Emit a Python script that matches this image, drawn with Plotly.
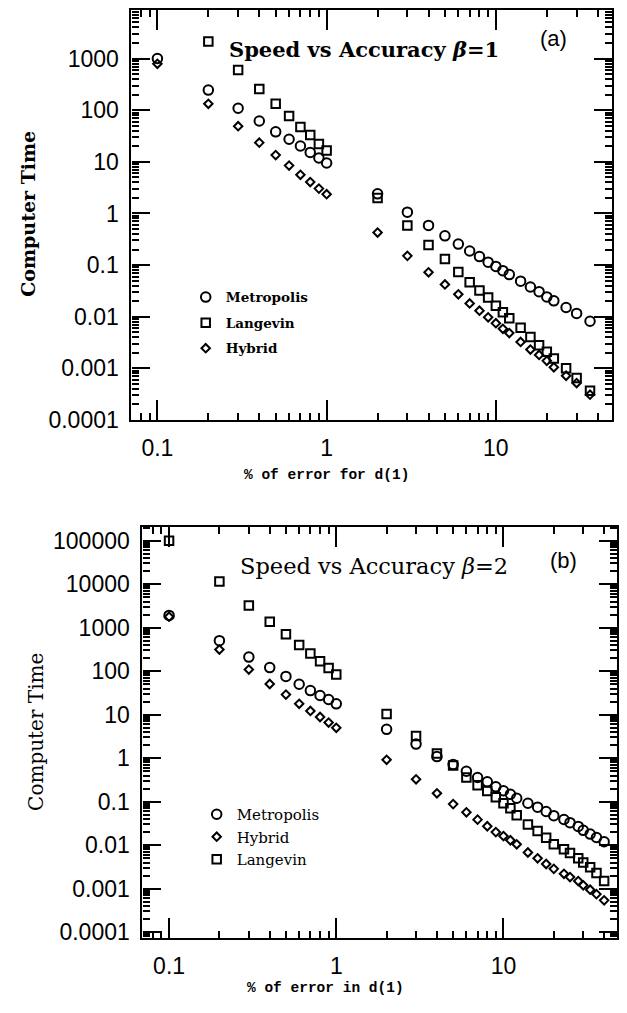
import plotly.graph_objects as go

# ---------------- data: panel (a), beta = 1 ----------------
x_a = [0.1, 0.2, 0.3, 0.4, 0.5, 0.6, 0.7, 0.8, 0.9, 1.0,
       2, 3, 4, 5, 6, 7, 8, 9, 10, 11, 12, 14, 16, 18, 20, 22, 26, 30, 36]
metro_a = [1000, 245, 109, 61.8, 38.1, 27.3, 20.3, 15.2, 11.9, 9.5,
           2.4, 1.06, 0.588, 0.369, 0.255, 0.188, 0.146, 0.114, 0.0945, 0.078, 0.0655,
           0.0489, 0.0376, 0.0306, 0.0242, 0.0203, 0.0151, 0.0116, 0.0082]
x_a_lang = [0.2, 0.3, 0.4, 0.5, 0.6, 0.7, 0.8, 0.9, 1.0,
            2, 3, 4, 5, 6, 7, 8, 9, 10, 11, 12, 14, 16, 18, 20, 22, 26, 30, 36]
lang_a = [2140, 598, 257, 133, 77, 47.4, 33, 22.2, 16.6,
          2.0, 0.588, 0.244, 0.132, 0.0736, 0.0468, 0.0324, 0.0235, 0.0163, 0.0122, 0.00935,
          0.0061, 0.00405, 0.00282, 0.0021, 0.00156, 0.00101, 0.00065, 0.00037]
hybrid_a = [790, 133, 49, 23.5, 13.5, 8.45, 5.6, 4.06, 3.03, 2.36,
            0.427, 0.151, 0.0726, 0.0422, 0.0272, 0.0181, 0.0131, 0.00975, 0.0075, 0.00584, 0.00483,
            0.00325, 0.00232, 0.00182, 0.0014, 0.00105, 0.00072, 0.00052, 0.00031]

# ---------------- data: panel (b), beta = 2 ----------------
x_b = [0.1, 0.2, 0.3, 0.4, 0.5, 0.6, 0.7, 0.8, 0.9, 1.0,
       2, 3, 4, 5, 6, 7, 8, 9, 10, 11, 12, 14, 16, 18, 20, 23, 25, 28, 30, 33, 36, 40]
metro_b = [1915, 504, 211, 121, 76, 50, 35.8, 27.6, 22.4, 17.8,
           4.6, 2.11, 1.09, 0.72, 0.50, 0.36, 0.286, 0.22, 0.179, 0.148, 0.12,
           0.092, 0.075, 0.0597, 0.0477, 0.039, 0.033, 0.027, 0.022, 0.018, 0.015, 0.012]
hybrid_b = [1790, 315, 109, 50.8, 29, 17.8, 12.2, 8.85, 6.6, 5.0,
            0.92, 0.328, 0.156, 0.088, 0.057, 0.0387, 0.0273, 0.02, 0.0162, 0.013, 0.0105,
            0.0068, 0.005, 0.0037, 0.00286, 0.0022, 0.00185, 0.0015, 0.0012, 0.00095, 0.00075, 0.00054]
lang_b = [100000, 11480, 3230, 1377, 711, 401, 256, 169, 119, 84,
          10.4, 3.26, 1.29, 0.68, 0.36, 0.24, 0.176, 0.126, 0.092, 0.071, 0.0486,
          0.0299, 0.0211, 0.0149, 0.0105, 0.0081, 0.0066, 0.0050, 0.0040, 0.0031, 0.0023, 0.0015]

ytick_a = [0.0001, 0.001, 0.01, 0.1, 1, 10, 100, 1000]
ytick_a_text = ["0.0001", "0.001", "0.01", "0.1", "1", "10", "100", "1000"]
ytick_b = [0.0001, 0.001, 0.01, 0.1, 1, 10, 100, 1000, 10000, 100000]
ytick_b_text = ["0.0001", "0.001", "0.01", "0.1", "1", "10", "100", "1000", "10000", "100000"]
xtick = [0.1, 1, 10]
xtick_text = ["0.1", "1", "10"]

# minor tick positions (2..9 in every decade)
minor_x = [m * 10.0 ** e for e in range(-2, 2) for m in range(2, 10)]
minor_ya = [m * 10.0 ** e for e in range(-4, 4) for m in range(2, 10)]
minor_yb = [m * 10.0 ** e for e in range(-5, 6) for m in range(2, 10)]

# page body keeps its default 8px margin: figure is 611 x 997 inside 627 x 1013
OFF = 8
W, H = 627 - 2 * OFF, 1013 - 2 * OFF


def px(x):
    return (x - OFF) / W


def py(y):
    return 1 - (y - OFF) / H


def mk(symbol, size):
    return dict(symbol=symbol, size=size, color="black",
                line=dict(color="black", width=2))


CIRC = mk("circle-open", 9.5)
SQR = mk("square-open", 8.5)
DIA = mk("diamond-open", 6.5)

fig = go.Figure()

# panel (a)
fig.add_trace(go.Scatter(x=x_a, y=metro_a, mode="markers", name="Metropolis",
                         marker=CIRC, xaxis="x", yaxis="y", legend="legend",
                         legendgroup="a1"))
fig.add_trace(go.Scatter(x=x_a_lang, y=lang_a, mode="markers", name="Langevin",
                         marker=SQR, xaxis="x", yaxis="y", legend="legend",
                         legendgroup="a2"))
fig.add_trace(go.Scatter(x=x_a, y=hybrid_a, mode="markers", name="Hybrid",
                         marker=DIA, xaxis="x", yaxis="y", legend="legend",
                         legendgroup="a3"))

# panel (b)
fig.add_trace(go.Scatter(x=x_b, y=metro_b, mode="markers", name="Metropolis",
                         marker=CIRC, xaxis="x2", yaxis="y2", legend="legend2",
                         legendgroup="b1"))
fig.add_trace(go.Scatter(x=x_b, y=hybrid_b, mode="markers", name="Hybrid",
                         marker=DIA, xaxis="x2", yaxis="y2", legend="legend2",
                         legendgroup="b2"))
fig.add_trace(go.Scatter(x=x_b, y=lang_b, mode="markers", name="Langevin",
                         marker=SQR, xaxis="x2", yaxis="y2", legend="legend2",
                         legendgroup="b3"))

# invisible copies on the mirror (top / right) axes so those axes get drawn
fig.add_trace(go.Scatter(x=x_a, y=metro_a, mode="markers", xaxis="x3", yaxis="y3",
                         marker=dict(opacity=0), showlegend=False, hoverinfo="skip"))
fig.add_trace(go.Scatter(x=x_b, y=metro_b, mode="markers", xaxis="x4", yaxis="y4",
                         marker=dict(opacity=0), showlegend=False, hoverinfo="skip"))

TICKFONT = dict(family="Liberation Sans", size=23, color="black")


def minor(vals):
    return dict(tickmode="array", tickvals=vals, ticks="inside", ticklen=7,
                tickwidth=1.6, tickcolor="black", showgrid=False)


XA_RANGE = [-1.153, 1.688]
YA_RANGE = [-4, 3.940]
XB_RANGE = [-1.159, 1.679]
YB_RANGE = [-4.129, 5.326]


def xax(domain, rng):
    return dict(type="log", range=rng, domain=domain,
                tickmode="array", tickvals=xtick, ticktext=xtick_text,
                ticks="inside", ticklen=20, tickwidth=2, tickcolor="black",
                showline=True, linewidth=2.2, linecolor="black", mirror=True,
                showgrid=False, zeroline=False, tickfont=TICKFONT,
                ticklabelstandoff=6, minor=minor(minor_x))


def yax(domain, rng, tv, tt, mv):
    return dict(type="log", range=rng, domain=domain,
                tickmode="array", tickvals=tv, ticktext=tt,
                ticks="inside", ticklen=18, tickwidth=2, tickcolor="black",
                showline=True, linewidth=2.2, linecolor="black", mirror=True,
                showgrid=False, zeroline=False, tickfont=TICKFONT,
                ticklabelstandoff=6, minor=minor(mv))


def mirror_ax(over, rng, tv, mv, side, anchor, ticklen):
    return dict(type="log", range=rng, overlaying=over, side=side, anchor=anchor,
                tickmode="array", tickvals=tv, showticklabels=False,
                ticks="inside", ticklen=ticklen, tickwidth=2, tickcolor="black",
                showline=False, showgrid=False, zeroline=False, minor=minor(mv))


fig.update_layout(
    width=W, height=H,
    margin=dict(l=0, r=0, t=0, b=0),
    paper_bgcolor="white", plot_bgcolor="white",
    xaxis=dict(xax([px(131.7), px(613.3)], XA_RANGE), anchor="y"),
    yaxis=dict(yax([py(424.3), 1.0], YA_RANGE, ytick_a, ytick_a_text, minor_ya), anchor="x"),
    xaxis2=dict(xax([px(142.7), px(618)], XB_RANGE), anchor="y2"),
    yaxis2=dict(yax([py(950), py(532.4)], YB_RANGE, ytick_b, ytick_b_text, minor_yb), anchor="x2"),
    xaxis3=mirror_ax("x", XA_RANGE, xtick, minor_x, "top", "y3", 20),
    yaxis3=mirror_ax("y", YA_RANGE, ytick_a, minor_ya, "right", "x3", 18),
    xaxis4=mirror_ax("x2", XB_RANGE, xtick, minor_x, "top", "y4", 20),
    yaxis4=mirror_ax("y2", YB_RANGE, ytick_b, minor_yb, "right", "x4", 18),
    legend=dict(x=px(186), y=py(284), xanchor="left", yanchor="top",
                bgcolor="rgba(0,0,0,0)", borderwidth=0, tracegroupgap=5,
                font=dict(family="DejaVu Serif", size=13.5, color="black", weight="bold"),
                itemwidth=30),
    legend2=dict(x=px(197), y=py(808), xanchor="left", yanchor="top",
                 bgcolor="rgba(0,0,0,0)", borderwidth=0, tracegroupgap=0,
                 font=dict(family="DejaVu Serif", size=15, color="black"),
                 itemwidth=30),
    showlegend=True,
)

ann = []
# panel titles
ann.append(dict(text="<b>Speed vs Accuracy <i>β</i>=1</b>", x=px(227), y=py(48),
                xanchor="left", yanchor="middle",
                font=dict(family="DejaVu Serif", size=21, color="black")))
ann.append(dict(text="Speed vs Accuracy <i>β</i>=2", x=px(238), y=py(573),
                xanchor="left", yanchor="middle",
                font=dict(family="DejaVu Serif", size=22.5, color="black")))
ann.append(dict(text="(a)", x=px(554), y=py(37), xanchor="center", yanchor="middle",
                font=dict(family="Liberation Sans", size=22, color="black")))
ann.append(dict(text="(b)", x=px(564), y=py(567), xanchor="center", yanchor="middle",
                font=dict(family="Liberation Sans", size=22, color="black")))
# axis titles
ann.append(dict(text="<b>Computer Time</b>", x=px(28), y=py(215), textangle=-90,
                xanchor="center", yanchor="middle",
                font=dict(family="DejaVu Serif", size=19, color="black")))
ann.append(dict(text="Computer Time", x=px(36), y=py(741), textangle=-90,
                xanchor="center", yanchor="middle",
                font=dict(family="DejaVu Serif", size=20, color="black")))
ann.append(dict(text="<b>% of error for d(1)</b>", x=px(327), y=py(480),
                xanchor="center", yanchor="middle",
                font=dict(family="Liberation Mono", size=14.5, color="black")))
ann.append(dict(text="<b>% of error in d(1)</b>", x=px(326), y=py(1001),
                xanchor="center", yanchor="middle",
                font=dict(family="Liberation Mono", size=14.5, color="black")))
for a in ann:
    a.update(xref="paper", yref="paper", showarrow=False)
fig.update_layout(annotations=ann)

fig.write_html("out.html", config={"displayModeBar": False, "responsive": False})
